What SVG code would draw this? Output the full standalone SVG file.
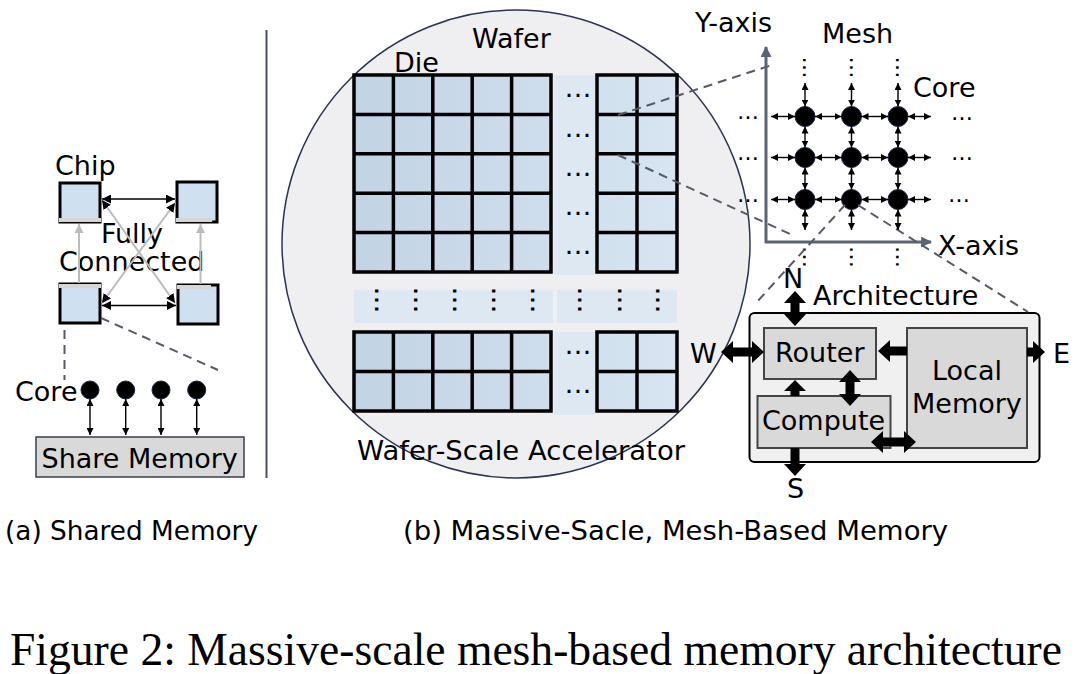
<svg xmlns="http://www.w3.org/2000/svg" width="1076" height="674" viewBox="0 0 1076 674">
<defs>
<style>
text{font-family:"DejaVu Sans","Liberation Sans",sans-serif;font-size:27px;fill:#000}
.cap{font-family:"Liberation Serif","Times New Roman",serif;font-size:46px}
.dots{font-size:27px;text-anchor:middle}
.mdots{font-size:22px;text-anchor:middle}
.grid{fill:none;stroke:#000;stroke-width:3.5}
.strip{fill:#dde8f3}
.dash{fill:none;stroke:#555a66;stroke-width:2;stroke-dasharray:9 6}
.thin{fill:none;stroke:#000;stroke-width:1.4}
.gray{fill:none;stroke:#bcbcbc;stroke-width:2}
.axis{fill:none;stroke:#5b6475;stroke-width:3}
.box{fill:#d9d9d9;stroke:#444;stroke-width:2}
.fat{fill:#000}
.chip{fill:#cfe0f0;stroke:#000;stroke-width:3}
</style>
<linearGradient id="die" gradientUnits="userSpaceOnUse" x1="354" y1="0" x2="677" y2="0">
<stop offset="0" stop-color="#c2d3e4"/><stop offset="1" stop-color="#d7e5f2"/>
</linearGradient>
<marker id="ah" viewBox="0 0 8 8" refX="8" refY="4" markerWidth="7" markerHeight="7" markerUnits="userSpaceOnUse" orient="auto-start-reverse"><path d="M0,0 L8,4 L0,8 z" fill="#000"/></marker>
<marker id="ahb" viewBox="0 0 8 8" refX="8" refY="4" markerWidth="9" markerHeight="9" markerUnits="userSpaceOnUse" orient="auto-start-reverse"><path d="M0,0 L8,4 L0,8 z" fill="#000"/></marker>
<marker id="ahg" viewBox="0 0 8 8" refX="8" refY="4" markerWidth="9" markerHeight="9" markerUnits="userSpaceOnUse" orient="auto-start-reverse"><path d="M0,0 L8,4 L0,8 z" fill="#bcbcbc"/></marker>
<marker id="axh" viewBox="0 0 10 10" refX="9" refY="5" markerWidth="11" markerHeight="11" markerUnits="userSpaceOnUse" orient="auto"><path d="M0,0 L10,5 L0,10 z" fill="#5b6475"/></marker>
</defs>

<!-- Panel (a) -->
<g id="chip-tl">
<rect class="chip" x="60" y="183" width="40" height="39"/>
<line x1="59" y1="220" x2="101" y2="220" stroke="#d6d6d6" stroke-width="4"/>
</g>
<g id="chip-tr">
<rect class="chip" x="177" y="182" width="40" height="40"/>
<line x1="176" y1="220" x2="212" y2="220" stroke="#d6d6d6" stroke-width="4"/>
</g>
<g id="chip-bl">
<rect class="chip" x="60" y="284" width="40" height="39"/>
<line x1="59" y1="286" x2="101" y2="286" stroke="#d6d6d6" stroke-width="4"/>
</g>
<g id="chip-br">
<rect class="chip" x="178" y="285" width="40" height="39"/>
<line x1="177" y1="287" x2="211" y2="287" stroke="#d6d6d6" stroke-width="4"/>
</g>
<g id="labels-a">
<text x="55" y="175">Chip</text>
<text x="132" y="243" text-anchor="middle">Fully</text>
<text x="59" y="271">Connected</text>
</g>
<g id="cores-a">
<text x="15" y="401">Core</text>
<circle cx="90" cy="390" r="9" fill="#000" stroke="#1a2340"/>
<circle cx="125.7" cy="390" r="9" fill="#000" stroke="#1a2340"/>
<circle cx="161" cy="390" r="9" fill="#000" stroke="#1a2340"/>
<circle cx="196.7" cy="390" r="9" fill="#000" stroke="#1a2340"/>
</g>
<g id="share-memory">
<rect x="36" y="437" width="208" height="40" fill="#d9d9d9" stroke="#3a3f50" stroke-width="1.5"/>
<text x="41.5" y="468">Share Memory</text>
</g>
<line id="separator" x1="266.5" y1="30" x2="266.5" y2="478" stroke="#4a5060" stroke-width="2"/>

<!-- Wafer -->
<g id="wafer">
<circle cx="516" cy="244" r="234" fill="#efeff1" stroke="#2b3452" stroke-width="1.5"/>
<rect class="strip" x="554" y="75" width="41" height="200"/>
<rect class="strip" x="554" y="332" width="41" height="83"/>
<rect class="strip" x="354" y="290" width="199" height="33"/>
<rect class="strip" x="557" y="290" width="120" height="33"/>
<rect x="354" y="75" width="197" height="197" fill="url(#die)"/>
<rect x="597" y="75" width="80" height="197" fill="url(#die)"/>
<rect x="354" y="332" width="197" height="79" fill="url(#die)"/>
<rect x="597" y="332" width="80" height="79" fill="url(#die)"/>
<path class="grid" d="M354,75 H551 V272 H354 Z M393.4,75 V272 M432.8,75 V272 M472.2,75 V272 M511.6,75 V272 M354,114.4 H551 M354,153.8 H551 M354,193.2 H551 M354,232.6 H551"/>
<path class="grid" d="M597,75 H677 V272 H597 Z M637,75 V272 M597,114.4 H677 M597,153.8 H677 M597,193.2 H677 M597,232.6 H677"/>
<path class="grid" d="M354,332 H551 V411 H354 Z M393.4,332 V411 M432.8,332 V411 M472.2,332 V411 M511.6,332 V411 M354,371.5 H551"/>
<path class="grid" d="M597,332 H677 V411 H597 Z M637,332 V411 M597,371.5 H677"/>
<text class="dots" x="578" y="97">…</text>
<text class="dots" x="578" y="137">…</text>
<text class="dots" x="578" y="176">…</text>
<text class="dots" x="578" y="215">…</text>
<text class="dots" x="578" y="254">…</text>
<text class="dots" x="578" y="354">…</text>
<text class="dots" x="578" y="393">…</text>
<text class="dots" transform="translate(376.7,300) rotate(90)" x="0" y="2">…</text>
<text class="dots" transform="translate(415.7,300) rotate(90)" x="0" y="2">…</text>
<text class="dots" transform="translate(454.7,300) rotate(90)" x="0" y="2">…</text>
<text class="dots" transform="translate(493.7,300) rotate(90)" x="0" y="2">…</text>
<text class="dots" transform="translate(533.3,300) rotate(90)" x="0" y="2">…</text>
<text class="dots" transform="translate(580,300) rotate(90)" x="0" y="2">…</text>
<text class="dots" transform="translate(620,300) rotate(90)" x="0" y="2">…</text>
<text class="dots" transform="translate(658.3,300) rotate(90)" x="0" y="2">…</text>
<text x="472" y="48">Wafer</text>
<text x="394" y="72">Die</text>
<text x="357" y="460" textLength="328" lengthAdjust="spacingAndGlyphs">Wafer-Scale Accelerator</text>
</g>

<!-- Mesh -->
<g id="mesh">
<line class="axis" x1="766" y1="243" x2="766" y2="47" marker-end="url(#axh)"/>
<line class="axis" x1="765" y1="242" x2="931" y2="242" marker-end="url(#axh)"/>
<text x="695" y="32">Y-axis</text>
<text x="822" y="43">Mesh</text>
<text x="913" y="97">Core</text>
<text x="938" y="255">X-axis</text>
<circle cx="805" cy="116.5" r="10" fill="#000" stroke="#1a2340"/>
<circle cx="851.5" cy="116.5" r="10" fill="#000" stroke="#1a2340"/>
<circle cx="898" cy="116.5" r="10" fill="#000" stroke="#1a2340"/>
<circle cx="805" cy="157.5" r="10" fill="#000" stroke="#1a2340"/>
<circle cx="851.5" cy="157.5" r="10" fill="#000" stroke="#1a2340"/>
<circle cx="898" cy="157.5" r="10" fill="#000" stroke="#1a2340"/>
<circle cx="805" cy="199.5" r="10" fill="#000" stroke="#1a2340"/>
<circle cx="851.5" cy="199.5" r="10" fill="#000" stroke="#1a2340"/>
<circle cx="898" cy="199.5" r="10" fill="#000" stroke="#1a2340"/>
<text class="mdots" x="748" y="119">…</text>
<text class="mdots" x="748" y="160">…</text>
<text class="mdots" x="748" y="202">…</text>
<text class="mdots" x="962" y="120">…</text>
<text class="mdots" x="962" y="160">…</text>
<text class="mdots" x="959" y="202">…</text>
<text class="mdots" transform="translate(805,67.5) rotate(90)" x="0" y="1.6">…</text>
<text class="mdots" transform="translate(851.5,67.5) rotate(90)" x="0" y="1.6">…</text>
<text class="mdots" transform="translate(898,67.5) rotate(90)" x="0" y="1.6">…</text>
<text class="mdots" transform="translate(805,257) rotate(90)" x="0" y="1.6">…</text>
<text class="mdots" transform="translate(851.5,257) rotate(90)" x="0" y="1.6">…</text>
<text class="mdots" transform="translate(898,257) rotate(90)" x="0" y="1.6">…</text>
</g>

<!-- Architecture -->
<g id="architecture">
<rect x="749.5" y="313" width="290" height="149" rx="5" fill="#f0f0f0" stroke="#000" stroke-width="2"/>
<text x="813" y="305">Architecture</text>
</g>
<g id="router">
<rect class="box" x="764" y="328" width="112" height="51"/>
<text x="775" y="362">Router</text>
</g>
<g id="compute">
<rect class="box" x="757.5" y="396" width="133" height="52"/>
<text x="762" y="430">Compute</text>
</g>
<g id="local-memory">
<rect class="box" x="907" y="328" width="120" height="120"/>
<text x="932" y="380">Local</text>
<text x="912" y="413">Memory</text>
</g>
<g id="dir-labels">
<text x="783" y="288">N</text>
<text x="690" y="363">W</text>
<text x="1053" y="363">E</text>
<text x="787" y="498">S</text>
</g>

<g id="connectors">
<line class="thin" x1="102" y1="199" x2="175" y2="199" marker-start="url(#ahb)" marker-end="url(#ahb)" stroke-width="2"/>
<line class="thin" x1="102" y1="305.5" x2="176" y2="305.5" marker-start="url(#ahb)" marker-end="url(#ahb)" stroke-width="2"/>
<line class="gray" x1="102" y1="200" x2="175" y2="303" marker-start="url(#ahb)" marker-end="url(#ahb)"/>
<line class="gray" x1="102" y1="303" x2="175" y2="203" marker-start="url(#ahb)" marker-end="url(#ahb)"/>
<line class="gray" x1="79" y1="283" x2="79" y2="224" marker-end="url(#ahg)"/>
<line class="gray" x1="200.5" y1="284" x2="200.5" y2="224" marker-end="url(#ahg)"/>
<line class="dash" x1="64.5" y1="330" x2="64.5" y2="380"/>
<line class="dash" x1="101" y1="318" x2="218" y2="370"/>
<line class="thin" x1="90" y1="399" x2="90" y2="435" marker-start="url(#ah)" marker-end="url(#ah)"/>
<line class="thin" x1="125.7" y1="399" x2="125.7" y2="435" marker-start="url(#ah)" marker-end="url(#ah)" stroke="#9a9a9a"/>
<line class="thin" x1="161" y1="399" x2="161" y2="435" marker-start="url(#ah)" marker-end="url(#ah)"/>
<line class="thin" x1="196.7" y1="399" x2="196.7" y2="435" marker-start="url(#ah)" marker-end="url(#ah)"/>
<line class="dash" x1="618" y1="115" x2="772" y2="65"/>
<line class="dash" x1="618" y1="155" x2="790" y2="234"/>
<line class="dash" x1="845" y1="205" x2="756" y2="303"/>
<line class="dash" x1="858" y1="205" x2="1028" y2="312"/>
<g class="thin">
<line x1="771" y1="116.5" x2="795" y2="116.5" marker-start="url(#ah)" marker-end="url(#ah)"/>
<line x1="815" y1="116.5" x2="841.5" y2="116.5" marker-start="url(#ah)" marker-end="url(#ah)"/>
<line x1="861.5" y1="116.5" x2="888" y2="116.5" marker-start="url(#ah)" marker-end="url(#ah)"/>
<line x1="908" y1="116.5" x2="931" y2="116.5" marker-start="url(#ah)" marker-end="url(#ah)"/>
<line x1="771" y1="157.5" x2="795" y2="157.5" marker-start="url(#ah)" marker-end="url(#ah)"/>
<line x1="815" y1="157.5" x2="841.5" y2="157.5" marker-start="url(#ah)" marker-end="url(#ah)"/>
<line x1="861.5" y1="157.5" x2="888" y2="157.5" marker-start="url(#ah)" marker-end="url(#ah)"/>
<line x1="908" y1="157.5" x2="931" y2="157.5" marker-start="url(#ah)" marker-end="url(#ah)"/>
<line x1="771" y1="199.5" x2="795" y2="199.5" marker-start="url(#ah)" marker-end="url(#ah)"/>
<line x1="815" y1="199.5" x2="841.5" y2="199.5" marker-start="url(#ah)" marker-end="url(#ah)"/>
<line x1="861.5" y1="199.5" x2="888" y2="199.5" marker-start="url(#ah)" marker-end="url(#ah)"/>
<line x1="908" y1="199.5" x2="931" y2="199.5" marker-start="url(#ah)" marker-end="url(#ah)"/>
<line x1="805" y1="83" x2="805" y2="106.5" marker-start="url(#ah)" marker-end="url(#ah)"/>
<line x1="805" y1="126.5" x2="805" y2="147.5" marker-start="url(#ah)" marker-end="url(#ah)"/>
<line x1="805" y1="167.5" x2="805" y2="189.5" marker-start="url(#ah)" marker-end="url(#ah)"/>
<line x1="805" y1="209.5" x2="805" y2="230" marker-start="url(#ah)" marker-end="url(#ah)"/>
<line x1="851.5" y1="83" x2="851.5" y2="106.5" marker-start="url(#ah)" marker-end="url(#ah)"/>
<line x1="851.5" y1="126.5" x2="851.5" y2="147.5" marker-start="url(#ah)" marker-end="url(#ah)"/>
<line x1="851.5" y1="167.5" x2="851.5" y2="189.5" marker-start="url(#ah)" marker-end="url(#ah)"/>
<line x1="851.5" y1="209.5" x2="851.5" y2="230" marker-start="url(#ah)" marker-end="url(#ah)"/>
<line x1="898" y1="83" x2="898" y2="106.5" marker-start="url(#ah)" marker-end="url(#ah)"/>
<line x1="898" y1="126.5" x2="898" y2="147.5" marker-start="url(#ah)" marker-end="url(#ah)"/>
<line x1="898" y1="167.5" x2="898" y2="189.5" marker-start="url(#ah)" marker-end="url(#ah)"/>
<line x1="898" y1="209.5" x2="898" y2="230" marker-start="url(#ah)" marker-end="url(#ah)"/>
</g>
<polygon class="fat" points="795,291 806,303 799.5,303 799.5,314 806,314 795,326 784,314 790.5,314 790.5,303 784,303"/>
<polygon class="fat" points="721,352 733,341 733,347.5 752,347.5 752,341 764,352 752,363 752,356.5 733,356.5 733,363"/>
<polygon class="fat" points="878,351 890,340 890,346.5 907,346.5 907,355.5 890,355.5 890,362"/>
<polygon class="fat" points="1027,347.5 1033,347.5 1033,341 1045,352 1033,363 1033,356.5 1027,356.5"/>
<polygon class="fat" points="850,370 861,382 854.5,382 854.5,394 861,394 850,406 839,394 845.5,394 845.5,382 839,382"/>
<polygon class="fat" points="795,380 806,391 799.5,391 799.5,396 790.5,396 790.5,391 784,391"/>
<polygon class="fat" points="871,442 883,431 883,437.5 904,437.5 904,431 916,442 904,453 904,446.5 883,446.5 883,453"/>
<polygon class="fat" points="790.5,448 799.5,448 799.5,464 806,464 795,476 784,464 790.5,464"/>
</g>

<g id="captions">
<text x="5" y="540" textLength="253" lengthAdjust="spacingAndGlyphs">(a) Shared Memory</text>
<text x="403" y="540" textLength="545" lengthAdjust="spacingAndGlyphs">(b) Massive-Sacle, Mesh-Based Memory</text>
<text class="cap" x="10" y="665" textLength="1052" lengthAdjust="spacingAndGlyphs">Figure 2: Massive-scale mesh-based memory architecture</text>
</g>
</svg>
